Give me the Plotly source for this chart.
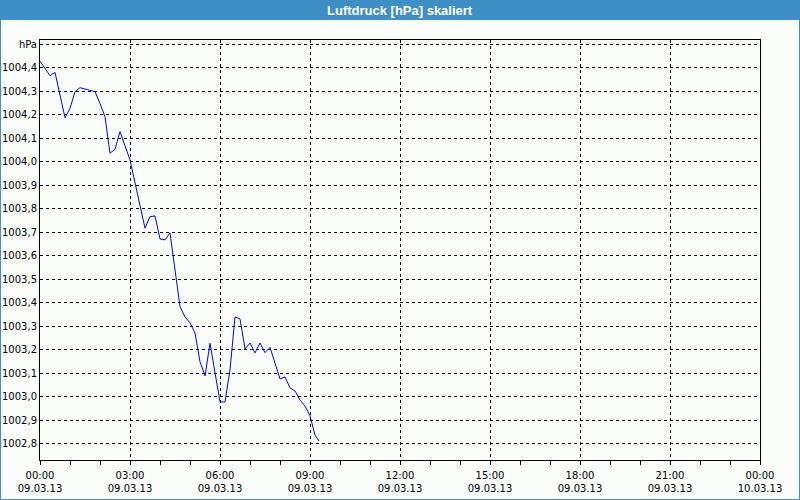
import plotly.graph_objects as go
import pandas as pd

# Minutes after 09.03.13 00:00 and pressure values (hPa)
minutes = [0, 20, 30, 50, 60, 70, 80, 90, 110, 120, 130, 140, 150, 160, 180,
           210, 220, 230, 240, 250, 260, 280, 290, 300, 310, 320, 330, 340,
           350, 360, 370, 380, 390, 400, 410, 420, 430, 440, 450, 460, 470,
           480, 490, 500, 510, 520, 530, 540, 550, 558]
pressure = [1004.428, 1004.366, 1004.380, 1004.187, 1004.227, 1004.298, 1004.315,
            1004.309, 1004.298, 1004.248, 1004.191, 1004.036, 1004.053, 1004.128,
            1004.007, 1003.717, 1003.766, 1003.769, 1003.671, 1003.667, 1003.697,
            1003.383, 1003.339, 1003.314, 1003.271, 1003.148, 1003.088, 1003.227,
            1003.092, 1002.977, 1002.977, 1003.114, 1003.339, 1003.331, 1003.203,
            1003.228, 1003.186, 1003.228, 1003.187, 1003.209, 1003.143, 1003.075,
            1003.084, 1003.037, 1003.024, 1002.985, 1002.960, 1002.918, 1002.836,
            1002.811]

y_tickvals = [1002.8, 1002.9, 1003.0, 1003.1, 1003.2, 1003.3, 1003.4, 1003.5, 1003.6,
              1003.7, 1003.8, 1003.9, 1004.0, 1004.1, 1004.2, 1004.3, 1004.4, 1004.5]
y_ticktext = ["1002,8", "1002,9", "1003,0", "1003,1", "1003,2", "1003,3", "1003,4",
              "1003,5", "1003,6", "1003,7", "1003,8", "1003,9", "1004,0", "1004,1",
              "1004,2", "1004,3", "1004,4", "hPa"]

title_text = "Luftdruck [hPa] skaliert"
start = pd.Timestamp("2013-03-09 00:00")
end = pd.Timestamp("2013-03-10 00:00")
times = [start + pd.Timedelta(minutes=m) for m in minutes]

W, H = 800, 500
ml, mr, mt, mb = 40, 40, 40, 40
pw, ph = W - ml - mr, H - mt - mb

def px_x(p):
    return (p - ml) / pw

def px_y(p):
    return (H - mb - p) / ph

font_family = "DejaVu Sans"
blue = "#3d8fc6"

fig = go.Figure()
fig.add_trace(go.Scatter(x=times, y=pressure, mode="lines",
                         line=dict(color="#0000ff", width=1), hoverinfo="skip"))

fig.update_layout(
    width=W, height=H,
    margin=dict(l=ml, r=mr, t=mt, b=mb, autoexpand=False),
    paper_bgcolor="#fbfdfb",
    plot_bgcolor="#fbfdfb",
    showlegend=False,
    font=dict(family=font_family, size=10, color="#000000"),
    xaxis=dict(
        type="date",
        range=[start, end],
        tick0=start, dtick=3 * 3600 * 1000,
        tickformat="%H:%M<br>%d.%m.%y",
        showgrid=True, gridcolor="#000000", gridwidth=1, griddash="3px,3px",
        showline=True, linecolor="#000000", linewidth=1, mirror=True,
        ticks="outside", ticklen=4, tickcolor="#000000",
        ticklabelstandoff=2,
        minor=dict(dtick=3600 * 1000, ticks="outside", ticklen=4,
                   tickcolor="#000000", showgrid=False),
        zeroline=False, automargin=False,
        tickfont=dict(family=font_family, size=10),
    ),
    yaxis=dict(
        range=[1002.73, 1004.518],
        tickvals=y_tickvals, ticktext=y_ticktext,
        showgrid=True, gridcolor="#000000", gridwidth=1, griddash="3px,3px",
        showline=True, linecolor="#000000", linewidth=1, mirror=True,
        ticks="", zeroline=False, automargin=False,
        tickfont=dict(family=font_family, size=10),
    ),
    shapes=[
        dict(type="rect", xref="paper", yref="paper",
             x0=px_x(0), x1=px_x(W), y0=px_y(20), y1=px_y(0),
             fillcolor=blue, line=dict(width=0), layer="below"),
        dict(type="rect", xref="paper", yref="paper",
             x0=px_x(0.5), x1=px_x(W - 0.5), y0=px_y(H - 0.5), y1=px_y(0.5),
             fillcolor="rgba(0,0,0,0)", line=dict(color=blue, width=1)),
    ],
    annotations=[
        dict(text="<b>" + title_text + "</b>", xref="paper", yref="paper",
             x=0.5, y=px_y(10), xanchor="center", yanchor="middle",
             showarrow=False,
             font=dict(family="Liberation Sans", size=13, color="#ffffff")),
    ],
)

fig.write_html("out.html",
               config={"displayModeBar": False, "staticPlot": True},
               post_script="document.body.style.margin='0';document.body.style.overflow='hidden';")
